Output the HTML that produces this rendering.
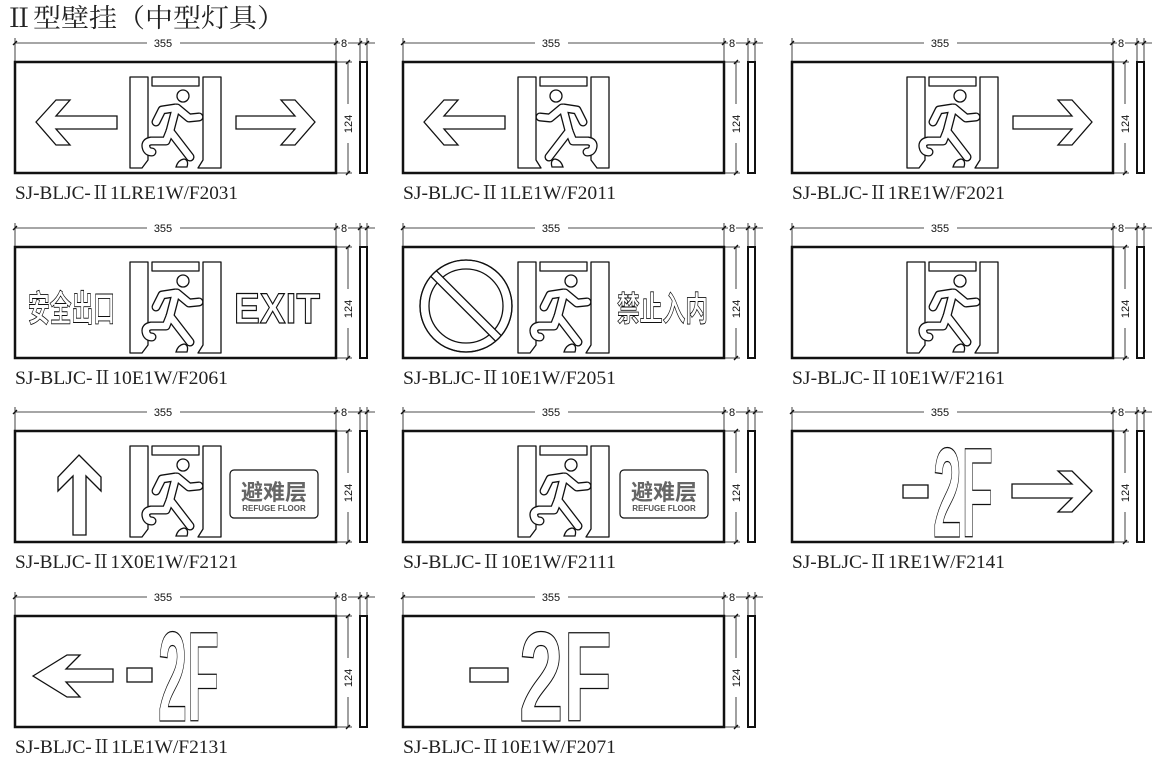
<!DOCTYPE html>
<html><head><meta charset="utf-8"><style>
html,body{margin:0;padding:0;background:#fff;width:1161px;height:763px;overflow:hidden}
svg{display:block}
.lbl{font-family:"Liberation Serif","Noto Serif CJK SC",serif;font-size:19px;fill:#222}
.dim{font-family:"Liberation Sans",sans-serif;font-size:11px;fill:#111}
</style></head><body>
<svg width="1161" height="763" viewBox="0 0 1161 763" xmlns="http://www.w3.org/2000/svg">
<defs>
<g id="frame" fill="none" stroke="#111">
  <rect x="15" y="62" width="321" height="111" stroke-width="2.5"/>
  <rect x="360" y="62" width="7" height="111" stroke-width="2"/>
  <g stroke-width="0.8">
    <line x1="15" y1="38" x2="15" y2="62"/><line x1="336" y1="38" x2="336" y2="62"/>
    <line x1="360" y1="38" x2="360" y2="62"/><line x1="367" y1="38" x2="367" y2="62"/>
    <line x1="15" y1="43" x2="147" y2="43"/><line x1="180" y1="43" x2="340" y2="43"/>
    <line x1="348" y1="43" x2="375" y2="43"/>
    <line x1="336" y1="62" x2="352" y2="62"/><line x1="336" y1="173" x2="352" y2="173"/>
    <line x1="348" y1="62" x2="348" y2="104"/><line x1="348" y1="143" x2="348" y2="173"/>
  </g>
  <g stroke-width="1.3">
    <line x1="13" y1="45" x2="17" y2="41"/><line x1="334" y1="45" x2="338" y2="41"/>
    <line x1="358" y1="45" x2="362" y2="41"/><line x1="365" y1="45" x2="369" y2="41"/>
    <line x1="346" y1="64" x2="350" y2="60"/><line x1="346" y1="175" x2="350" y2="171"/>
  </g>
</g>
<g id="door">
  <g fill="#fff" stroke="#111" stroke-width="1.3" stroke-linejoin="round">
    <path d="M130,77 H148 V160 L142,168 H130 Z"/>
    <rect x="152" y="77" width="47" height="9"/>
    <path d="M203,77 H221 V168 H198 L203,160 Z"/>
  </g>
  <g fill="none" stroke="#111" stroke-width="9" stroke-linecap="round" stroke-linejoin="round">
    <path d="M176,108 L170,131"/><path d="M175,108 L162,110 L156,122"/>
    <path d="M177,108 L189,118 L199,117"/>
    <path d="M170,131 L166,141 L151,141 Q145,142 146,147 Q147,152 152,152"/>
    <path d="M170,131 L190,157"/>
  </g>
  <g fill="none" stroke="#fff" stroke-width="6.4" stroke-linecap="round" stroke-linejoin="round">
    <path d="M176,108 L170,131"/><path d="M175,108 L162,110 L156,122"/>
    <path d="M177,108 L189,118 L199,117"/>
    <path d="M170,131 L166,141 L151,141 Q145,142 146,147 Q147,152 152,152"/>
    <path d="M170,131 L190,157"/>
  </g>
  <circle cx="183" cy="96" r="6" fill="#fff" stroke="#111" stroke-width="1.3"/>
  <path d="M176,167 Q178,160 184,159 Q189,160 187,167 Z" fill="#fff" stroke="#111" stroke-width="1.3"/>
</g>
<polygon id="larrow" points="36,122 56,100 70,100 56,116 117,116 117,129 56,129 70,145 56,145" fill="#fff" stroke="#111" stroke-width="1.3"/>
<polygon id="rarrow" points="315,122 295,100 281,100 295,116 236,116 236,129 295,129 281,145 295,145" fill="#fff" stroke="#111" stroke-width="1.3"/>
<clipPath id="cc"><circle cx="466" cy="306" r="46"/></clipPath>
</defs>

<text x="5" y="27" font-family="Liberation Serif,'Noto Serif CJK SC',serif" font-size="26" fill="#222" textLength="280" lengthAdjust="spacingAndGlyphs">Ⅱ型壁挂（中型灯具）</text>

<use href="#frame"/><use href="#frame" transform="translate(388,0)"/><use href="#frame" transform="translate(777,0)"/>
<use href="#frame" transform="translate(0,185)"/><use href="#frame" transform="translate(388,185)"/><use href="#frame" transform="translate(777,185)"/>
<use href="#frame" transform="translate(0,369)"/><use href="#frame" transform="translate(388,369)"/><use href="#frame" transform="translate(777,369)"/>
<use href="#frame" transform="translate(0,554)"/><use href="#frame" transform="translate(388,554)"/>

<g class="dim" text-anchor="middle">
<text x="163" y="47">355</text><text x="344" y="47">8</text>
<text x="551" y="47">355</text><text x="732" y="47">8</text>
<text x="940" y="47">355</text><text x="1121" y="47">8</text>
<text x="163" y="232">355</text><text x="344" y="232">8</text>
<text x="551" y="232">355</text><text x="732" y="232">8</text>
<text x="940" y="232">355</text><text x="1121" y="232">8</text>
<text x="163" y="416">355</text><text x="344" y="416">8</text>
<text x="551" y="416">355</text><text x="732" y="416">8</text>
<text x="940" y="416">355</text><text x="1121" y="416">8</text>
<text x="163" y="601">355</text><text x="344" y="601">8</text>
<text x="551" y="601">355</text><text x="732" y="601">8</text>
<text transform="translate(352,124) rotate(-90)">124</text>
<text transform="translate(740,124) rotate(-90)">124</text>
<text transform="translate(1129,124) rotate(-90)">124</text>
<text transform="translate(352,309) rotate(-90)">124</text>
<text transform="translate(740,309) rotate(-90)">124</text>
<text transform="translate(1129,309) rotate(-90)">124</text>
<text transform="translate(352,493) rotate(-90)">124</text>
<text transform="translate(740,493) rotate(-90)">124</text>
<text transform="translate(1129,493) rotate(-90)">124</text>
<text transform="translate(352,678) rotate(-90)">124</text>
<text transform="translate(740,678) rotate(-90)">124</text>
</g>

<use href="#larrow"/><use href="#door"/><use href="#rarrow"/>
<use href="#larrow" transform="translate(388,0)"/>
<use href="#door" transform="translate(739,0) scale(-1,1)"/>
<use href="#door" transform="translate(777,0)"/><use href="#rarrow" transform="translate(777,0)"/>

<use href="#door" transform="translate(0,185)"/>
<use href="#door" transform="translate(388,185)"/>
<use href="#door" transform="translate(777,185)"/>
<text x="28" y="321" font-family="'Noto Sans CJK SC',sans-serif" font-weight="bold" font-size="36" fill="#fff" stroke="#111" stroke-width="0.9" textLength="87" lengthAdjust="spacingAndGlyphs">安全出口</text>
<text x="234" y="323" font-family="'Liberation Sans',sans-serif" font-weight="bold" font-size="43" fill="#fff" stroke="#111" stroke-width="1.2" textLength="86" lengthAdjust="spacingAndGlyphs">EXIT</text>
<circle cx="466" cy="306" r="46" fill="#fff" stroke="#111" stroke-width="1.3"/>
<circle cx="466" cy="306" r="37" fill="#fff" stroke="#111" stroke-width="1.3"/>
<rect x="420" y="302" width="92" height="8" fill="#fff" stroke="#111" stroke-width="1.3" transform="rotate(45 466 306)" clip-path="url(#cc)"/>
<circle cx="466" cy="306" r="46" fill="none" stroke="#111" stroke-width="1.3"/>
<text x="617" y="321" font-family="'Noto Sans CJK SC',sans-serif" font-weight="bold" font-size="34" fill="#fff" stroke="#111" stroke-width="0.9" textLength="91" lengthAdjust="spacingAndGlyphs">禁止入内</text>

<polygon points="79,455 101,477 101,491 86,476 86,535 73,535 73,476 58,491 58,477" fill="#fff" stroke="#111" stroke-width="1.3"/>
<use href="#door" transform="translate(0,369)"/>
<rect x="230" y="470" width="88" height="48" rx="4" fill="#fff" stroke="#111" stroke-width="1.2"/>
<text x="274" y="500" text-anchor="middle" font-family="'Noto Sans CJK SC',sans-serif" font-weight="bold" font-size="22" fill="#666">避难层</text>
<text x="274" y="511" text-anchor="middle" font-family="'Liberation Sans',sans-serif" font-weight="bold" font-size="8" fill="#555">REFUGE FLOOR</text>
<use href="#door" transform="translate(388,369)"/>
<rect x="620" y="470" width="88" height="48" rx="4" fill="#fff" stroke="#111" stroke-width="1.2"/>
<text x="664" y="500" text-anchor="middle" font-family="'Noto Sans CJK SC',sans-serif" font-weight="bold" font-size="22" fill="#666">避难层</text>
<text x="664" y="511" text-anchor="middle" font-family="'Liberation Sans',sans-serif" font-weight="bold" font-size="8" fill="#555">REFUGE FLOOR</text>
<rect x="903" y="485" width="25" height="13" fill="#fff" stroke="#111" stroke-width="1.3"/>
<text x="933" y="537" font-family="'Liberation Sans',sans-serif" font-weight="bold" font-size="128" fill="#fff" stroke="#111" stroke-width="1.3" textLength="60" lengthAdjust="spacingAndGlyphs">2F</text>
<polygon points="1092,491 1072,471 1058,471 1072,484 1012,484 1012,498 1072,498 1058,512 1072,512" fill="#fff" stroke="#111" stroke-width="1.3"/>

<polygon points="33,676 67,655 80,655 66,669 113,669 113,682 66,682 80,697 67,697" fill="#fff" stroke="#111" stroke-width="1.3"/>
<rect x="127" y="668" width="25" height="14" fill="#fff" stroke="#111" stroke-width="1.3"/>
<text x="158" y="721" font-family="'Liberation Sans',sans-serif" font-weight="bold" font-size="128" fill="#fff" stroke="#111" stroke-width="1.3" textLength="61" lengthAdjust="spacingAndGlyphs">2F</text>
<rect x="470" y="668" width="38" height="14" fill="#fff" stroke="#111" stroke-width="1.3"/>
<text x="519" y="721" font-family="'Liberation Sans',sans-serif" font-weight="bold" font-size="128" fill="#fff" stroke="#111" stroke-width="1.3" textLength="93" lengthAdjust="spacingAndGlyphs">2F</text>

<text class="lbl" x="15" y="199" textLength="223" lengthAdjust="spacingAndGlyphs">SJ-BLJC-Ⅱ1LRE1W/F2031</text>
<text class="lbl" x="403" y="199" textLength="213" lengthAdjust="spacingAndGlyphs">SJ-BLJC-Ⅱ1LE1W/F2011</text>
<text class="lbl" x="792" y="199" textLength="213" lengthAdjust="spacingAndGlyphs">SJ-BLJC-Ⅱ1RE1W/F2021</text>
<text class="lbl" x="15" y="384" textLength="213" lengthAdjust="spacingAndGlyphs">SJ-BLJC-Ⅱ10E1W/F2061</text>
<text class="lbl" x="403" y="384" textLength="213" lengthAdjust="spacingAndGlyphs">SJ-BLJC-Ⅱ10E1W/F2051</text>
<text class="lbl" x="792" y="384" textLength="213" lengthAdjust="spacingAndGlyphs">SJ-BLJC-Ⅱ10E1W/F2161</text>
<text class="lbl" x="15" y="568" textLength="223" lengthAdjust="spacingAndGlyphs">SJ-BLJC-Ⅱ1X0E1W/F2121</text>
<text class="lbl" x="403" y="568" textLength="213" lengthAdjust="spacingAndGlyphs">SJ-BLJC-Ⅱ10E1W/F2111</text>
<text class="lbl" x="792" y="568" textLength="213" lengthAdjust="spacingAndGlyphs">SJ-BLJC-Ⅱ1RE1W/F2141</text>
<text class="lbl" x="15" y="753" textLength="213" lengthAdjust="spacingAndGlyphs">SJ-BLJC-Ⅱ1LE1W/F2131</text>
<text class="lbl" x="403" y="753" textLength="213" lengthAdjust="spacingAndGlyphs">SJ-BLJC-Ⅱ10E1W/F2071</text>
</svg>
</body></html>
